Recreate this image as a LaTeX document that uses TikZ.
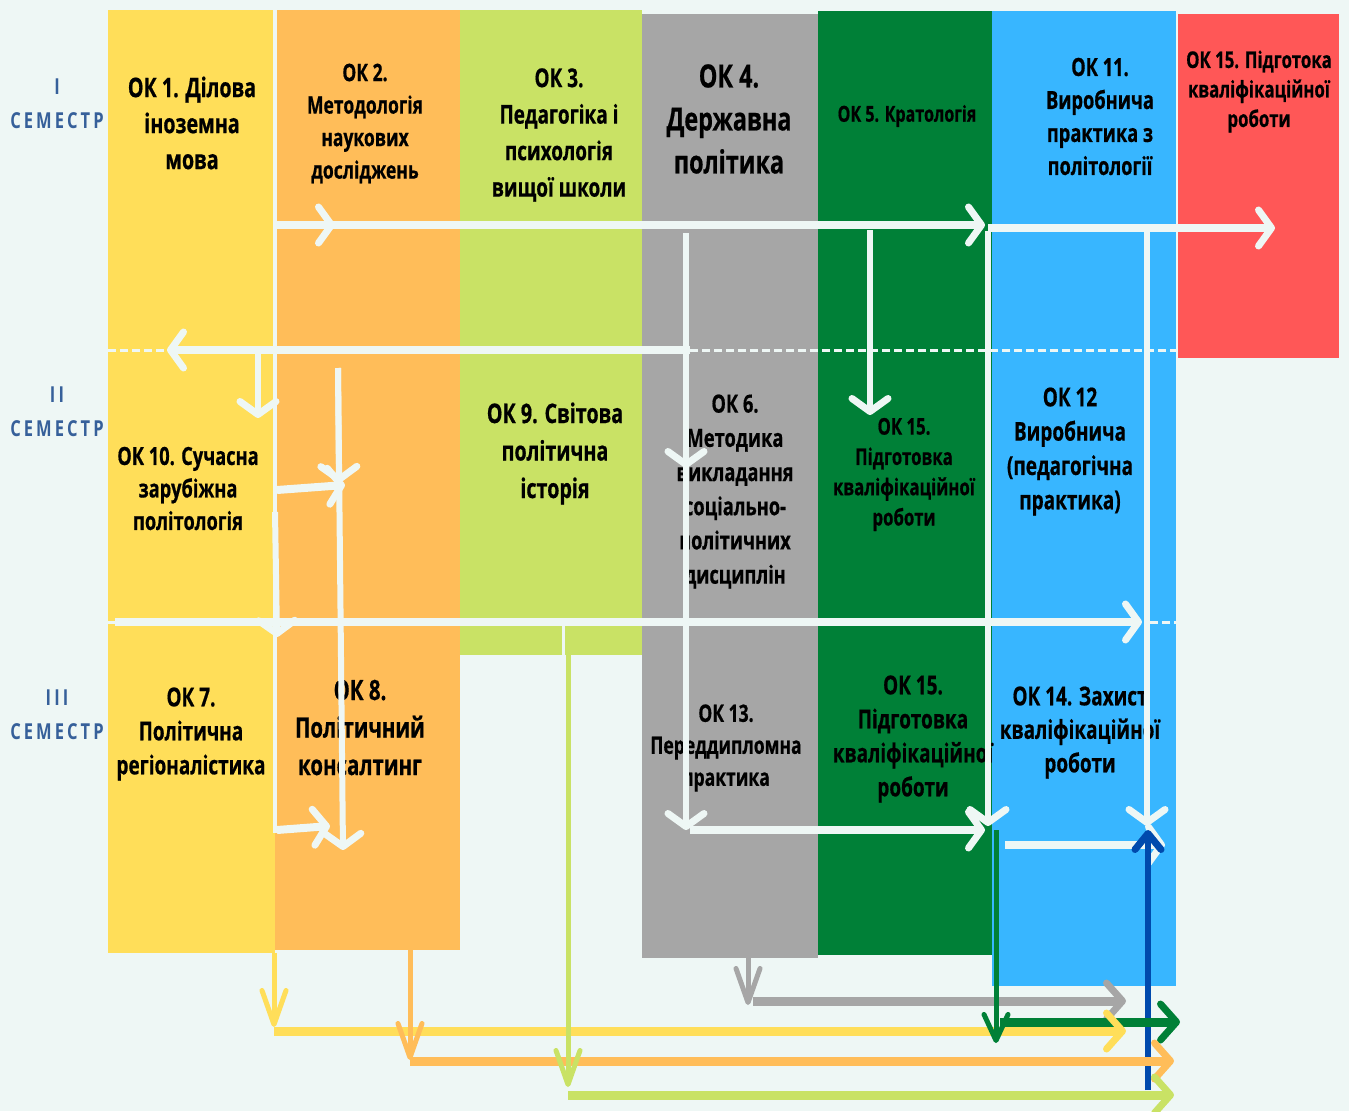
\documentclass[tikz,border=0pt]{standalone}
\usepackage{fontspec}
\setmainfont{Open Sans}[FakeStretch=0.73,FakeBold=0.6]
\newfontfamily\semfont{Open Sans}[FakeStretch=0.75,LetterSpace=14]
\usetikzlibrary{arrows.meta}
\definecolor{bgc}{HTML}{EEF7F5}
\definecolor{cyel}{HTML}{FFDE59}
\definecolor{cora}{HTML}{FFBD59}
\definecolor{clim}{HTML}{C9E265}
\definecolor{cgra}{HTML}{A6A6A6}
\definecolor{cgrn}{HTML}{008037}
\definecolor{cblu}{HTML}{38B6FF}
\definecolor{cred}{HTML}{FF5757}
\definecolor{cdbl}{HTML}{004AAD}
\definecolor{csem}{HTML}{36609A}
\newcommand\fz[2]{\fontsize{#1}{#2}\selectfont\bfseries}
\tikzset{
  txt/.style={align=center,text=black,inner sep=0pt},
  sem/.style={align=center,text=csem,inner sep=0pt,font=\semfont\fontsize{22}{34}\selectfont\bfseries},
  wline/.style={draw=bgc,line width=8pt},
  wvert/.style={draw=bgc,line width=6pt},
  wsep/.style={draw=bgc,line width=4pt},
  wdash/.style={draw=bgc,line width=3pt,dash pattern=on 8pt off 4pt},
  wtip/.style={-{Straight Barb[length=13pt,width=36pt,line width=7pt,line cap=round,line join=round]}},
  cvtip/.style={-{Straight Barb[length=34pt,width=24pt,line width=5pt,line cap=round,line join=round]}},
  chtip/.style={-{Straight Barb[length=16pt,width=36pt,line width=7pt,line cap=round,line join=round]}},
  cvl/.style={line width=5pt},
  chl/.style={line width=9pt},
}
\begin{document}
\begin{tikzpicture}[x=1pt,y=-1pt]
\fill[bgc] (0,0) rectangle (1349,1111);
\useasboundingbox (0,0) rectangle (1349,1111);
% blocks
\fill[cyel] (108,10) rectangle (275,953);
\fill[cora] (275,10) rectangle (460,950);
\fill[clim] (460,10) rectangle (642,655);
\fill[cgra] (642,14) rectangle (818,958);
\fill[cgrn] (818,11) rectangle (992,955);
\fill[cblu] (992,11) rectangle (1176,986);
\fill[cred] (1178,14) rectangle (1339,358);
% semester labels
\node[sem] (s1) at (57,104) {I\\СЕМЕСТР};
\node[sem] (s2) at (57,412) {II\\СЕМЕСТР};
\node[sem] (s3) at (57,715) {III\\СЕМЕСТР};
% texts
\node[txt,font=\fz{27}{36}] (ok1) at (192,123) {ОК 1. Ділова\\іноземна\\мова};
\node[txt,font=\fz{24}{32.5}] (ok2) at (365,123.5) {ОК 2.\\Методологія\\наукових\\досліджень};
\node[txt,font=\fz{26}{36.5}] (ok3) at (559,135) {ОК 3.\\Педагогіка і\\психологія\\вищої школи};
\node[txt,font=\fz{32}{43}] (ok4) at (729,119) {ОК 4.\\Державна\\політика};
\node[txt,font=\fz{22}{30}] (ok5) at (907,116) {ОК 5. Кратологія};
\node[txt,font=\fz{25}{33}] (ok11) at (1100,116.5) {ОК 11.\\Виробнича\\практика з\\політології};
\node[txt,font=\fz{23}{29.5}] (ok15a) at (1259,91.5) {ОК 15. Підготока\\кваліфікаційної\\роботи};
\node[txt,font=\fz{25}{32.5}] (ok10) at (188,488.5) {ОК 10. Сучасна\\зарубіжна\\політологія};
\node[txt,font=\fz{27}{37.5}] (ok9) at (555,453.5) {ОК 9. Світова\\політична\\історія};
\node[txt,font=\fz{25}{34.2}] (ok6) at (735,491.5) {ОК 6.\\Методика\\викладання\\соціально-\\політичних\\дисциплін};
\node[txt,font=\fz{23}{30.3}] (ok15b) at (904,474.5) {ОК 15.\\Підготовка\\кваліфікаційної\\роботи};
\node[txt,font=\fz{26}{34.3}] (ok12) at (1070,451.5) {ОК 12\\Виробнича\\(педагогічна\\практика)};
\node[txt,font=\fz{26}{34}] (ok7) at (191,734) {ОК 7.\\Політична\\регіоналістика};
\node[txt,font=\fz{28}{37.5}] (ok8) at (360,727.5) {ОК 8.\\Політичний\\консалтинг};
\node[txt,font=\fz{24}{32}] (ok13) at (726,748) {ОК 13.\\Переддипломна\\практика};
\node[txt,font=\fz{26}{34}] (ok15c) at (913,739) {ОК 15.\\Підготовка\\кваліфікаційної\\роботи};
\node[txt,font=\fz{26}{33.5}] (ok14) at (1080,732.5) {ОК 14. Захист\\кваліфікаційної\\роботи};
% white connector network
\coordinate (sepT) at (275,10);
\coordinate (sepB) at (275,833);
\draw[wsep] (sepT) -- (sepB);
\coordinate (a1) at (275,225); \coordinate (a2) at (985,225); \coordinate (am) at (335,225);
\draw[wline,wtip] (a1) -- (a2);
\draw[wline,wtip] (a1) -- (am);
\coordinate (b0) at (988,228); \coordinate (b1) at (1275,228); \coordinate (b2) at (988,826);
\draw[wline,wtip] (b0) -- (b1);
\draw[wvert,wtip] ([yshift=-3pt]b0) -- (b2);
\coordinate (c0) at (1147,232); \coordinate (c1) at (1147,826);
\draw[wvert,wtip] (c0) -- (c1);
\coordinate (l0) at (870,230); \coordinate (l1) at (870,415);
\draw[wvert,wtip] (l0) -- (l1);
\coordinate (d0) at (686,233); \coordinate (dm) at (686,468); \coordinate (d1) at (686,830);
\coordinate (d2) at (690,830); \coordinate (d3) at (985,830);
\draw[wvert,wtip] (d0) -- (d1);
\draw[wvert,wtip] (d0) -- (dm);
\draw[wline,wtip] (d2) -- (d3);
\coordinate (e0) at (690,350); \coordinate (e1) at (167,350);
\coordinate (eL) at (108,350); \coordinate (eR) at (1176,350);
\draw[wline,wtip] (e0) -- (e1);
\draw[wdash] (eL) -- (e1);
\draw[wdash] (e0) -- (eR);
\coordinate (f0) at (258,352); \coordinate (f1) at (258,418);
\draw[wvert,wtip] (f0) -- (f1);
\coordinate (g0) at (338,368); \coordinate (gm) at (339,483); \coordinate (g1) at (343,850);
\draw[wvert,wtip] (g0) -- (g1);
\draw[wvert,wtip] (g0) -- (gm);
\coordinate (h0) at (277,490); \coordinate (h1) at (345,485);
\draw[wline,wtip] (h0) -- (h1);
\coordinate (i0) at (277,830); \coordinate (i1) at (330,826);
\draw[wline,wtip] (i0) -- (i1);
\coordinate (m0) at (275,512); \coordinate (m1) at (277,637);
\draw[wvert,wtip] (m0) -- (m1);
\coordinate (j0) at (115,622); \coordinate (j1) at (1142,622);
\coordinate (jL) at (108,622); \coordinate (jR) at (1176,622);
\draw[wline,wtip] (j0) -- (j1);
\draw[wdash] (jL) -- (j0);
\draw[wdash] (1150,622) -- (jR);
\coordinate (k0) at (1005,845); \coordinate (k1) at (1165,845);
\draw[wline,wtip] (k0) -- (k1);
\coordinate (n0) at (563,625); \coordinate (n1) at (563,655);
\draw[draw=bgc,line width=3pt] (n0) -- (n1);
% dark blue arrow
\coordinate (z0) at (1148,1090); \coordinate (z1) at (1148,830);
\draw[cdbl,line width=6pt,-{Straight Barb[length=16pt,width=26pt,line width=7pt,line cap=round,line join=round]}] (z0) -- (z1);
% bottom coloured horizontals
\draw[cgra,chl,chtip] (753,1001) -- (1126,1001);
\draw[cgrn,chl,chtip] (1000,1022) -- (1180,1022);
\draw[cyel,chl,chtip] (274,1031) -- (1126,1031);
\draw[cora,chl,chtip] (410,1061) -- (1174,1061);
\draw[clim,chl,chtip] (568,1095) -- (1174,1095);
% bottom coloured verticals
\draw[cyel,cvl,cvtip] (274,953) -- (274,1027);
\draw[cora,cvl,cvtip] (410,950) -- (410,1060);
\draw[clim,cvl,cvtip] (568,655) -- (568,1087);
\draw[cgra,cvl,cvtip] (748,958) -- (748,1005);
\draw[cgrn,cvl,-{Straight Barb[length=26pt,width=24pt,line width=5pt,line cap=round,line join=round]}] (996,830) -- (996,1043);
\end{tikzpicture}
\end{document}
